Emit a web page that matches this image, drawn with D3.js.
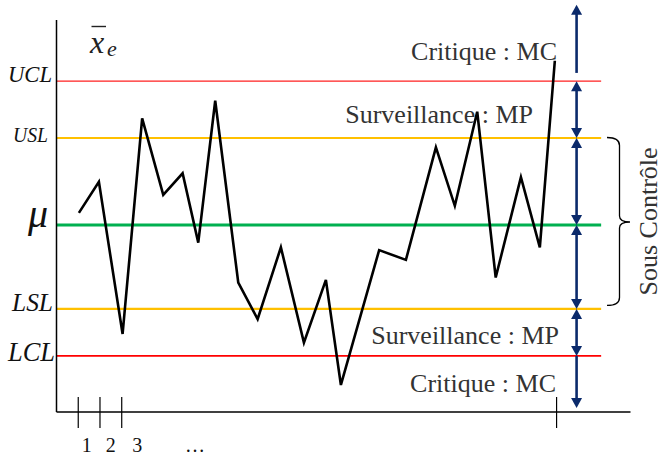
<!DOCTYPE html>
<html>
<head>
<meta charset="utf-8">
<script src="https://cdn.jsdelivr.net/npm/d3@7"></script>
<style>
  html, body { margin: 0; padding: 0; background: #fff; }
  svg { display: block; }
</style>
</head>
<body>
<svg id="chart" width="664" height="457"></svg>
<script>
// ---------- data ----------
// sample positions (index units) and plotted averages (arbitrary units)
const sampleX = [1.03, 1.95, 3.04, 3.94, 4.91, 5.80, 6.52, 7.30, 8.36, 9.25, 10.32, 11.38,
                 12.39, 13.08, 14.84, 16.07, 17.45, 18.32, 19.35, 20.20, 21.36, 22.23, 22.92];
const sampleY = [50.8, 58.7, 19.9, 74.9, 55.4, 60.9, 43.2, 79.4, 33.0, 23.7, 42.0, 17.7,
                 33.7, 6.9, 41.3, 38.8, 67.5, 52.6, 76.6, 34.3, 59.9, 42.0, 89.6];

const limitNames  = ["UCL", "USL", "\u03BC", "LSL", "LCL"];
const limitValues = [84.4, 69.9, 47.7, 26.3, 14.3];
const limitColors = ["#ff2020", "#ffc000", "#00b050", "#ffc000", "#ff0000"];

const tickValues = [1, 2, 3, 23];
const tickLabels = ["1", "2", "3", "\u2026"];
const tickLabelPos = [1.39, 2.49, 3.71, 6.37];

const zoneLabels = ["Critique : MC", "Surveillance : MP", "Surveillance : MP", "Critique : MC"];
const sideLabel = "Sous Contr\u00F4le";

// ---------- scales ----------
const svg = d3.select("#chart");
const x = d3.scaleLinear().domain([0, 26.4]).range([56.5, 630.5]);
const y = d3.scaleLinear().domain([0, 100]).range([412, 20]);
const serif = "'Liberation Serif', 'Times New Roman', serif";

// ---------- limit lines ----------
const lineWidths = [1.4, 2.2, 3, 2.2, 1.8];
svg.selectAll("line.limit").data(limitValues).enter().append("line")
  .attr("class", "limit")
  .attr("x1", x(0)).attr("x2", x(25.05))
  .attr("y1", d => y(d)).attr("y2", d => y(d))
  .attr("stroke", (d, i) => limitColors[i])
  .attr("stroke-width", (d, i) => lineWidths[i]);

// ---------- axes ----------
svg.append("line").attr("x1", x(0)).attr("x2", x(0)).attr("y1", y(100)).attr("y2", y(0))
  .attr("stroke", "#000").attr("stroke-width", 1.5);
svg.append("line").attr("x1", x(0)).attr("x2", x(26.4)).attr("y1", y(0)).attr("y2", y(0))
  .attr("stroke", "#000").attr("stroke-width", 1.5);

svg.selectAll("line.tick").data(tickValues).enter().append("line")
  .attr("class", "tick")
  .attr("x1", d => x(d)).attr("x2", d => x(d))
  .attr("y1", y(0) - 15).attr("y2", y(0) + 16)
  .attr("stroke", "#000").attr("stroke-width", 1.2);

svg.selectAll("text.tl").data(tickLabels).enter().append("text")
  .attr("class", "tl")
  .attr("x", (d, i) => x(tickLabelPos[i]))
  .attr("y", 451.5)
  .attr("text-anchor", "middle")
  .attr("font-family", serif).attr("font-size", 20)
  .attr("fill", "#111")
  .text(d => d);

// ---------- y labels (italic) ----------
const labelSpecs = [
  {size: 23, len: 44, right: 52, dy: 1},
  {size: 21, len: 35, right: 48, dy: 4},
  {size: 40, len: 0, right: 48, dy: 2},
  {size: 26, len: 41, right: 53, dy: 2},
  {size: 27, len: 47, right: 55, dy: 5}
];
svg.selectAll("text.yl").data(limitNames).enter().append("text")
  .attr("class", "yl")
  .attr("x", (d, i) => labelSpecs[i].len ? labelSpecs[i].right - labelSpecs[i].len : labelSpecs[i].right)
  .attr("text-anchor", (d, i) => labelSpecs[i].len ? "start" : "end")
  .attr("y", (d, i) => y(limitValues[i]) + labelSpecs[i].dy)
  .attr("font-family", serif).attr("font-style", "italic")
  .attr("font-size", (d, i) => labelSpecs[i].size)
  .attr("textLength", (d, i) => labelSpecs[i].len || null)
  .attr("lengthAdjust", (d, i) => labelSpecs[i].len ? "spacingAndGlyphs" : null)
  .attr("fill", "#111")
  .text(d => d);

// x-bar e title
const title = svg.append("g");
title.append("text").attr("x", 90).attr("y", 53)
  .attr("font-family", serif).attr("font-style", "italic").attr("font-size", 32)
  .attr("fill", "#222").text("x");
title.append("text").attr("x", 107).attr("y", 56)
  .attr("font-family", serif).attr("font-style", "italic").attr("font-size", 22)
  .attr("fill", "#222").text("e");
title.append("line").attr("x1", 91.5).attr("x2", 106).attr("y1", 26.5).attr("y2", 26.5)
  .attr("stroke", "#222").attr("stroke-width", 1.4);

// ---------- data polyline ----------
const pts = sampleX.map((v, i) => [v, sampleY[i]]);
svg.append("path")
  .datum(pts)
  .attr("fill", "none")
  .attr("stroke", "#000")
  .attr("stroke-width", 2.6)
  .attr("stroke-linejoin", "miter")
  .attr("d", d3.line().x(d => x(d[0])).y(d => y(d[1])));

// ---------- zone labels ----------
const zoneBase = [60, 123, 344, 392];
const zoneRight = [557, 533, 559, 556];
svg.selectAll("text.zone").data(zoneLabels).enter().append("text")
  .attr("class", "zone")
  .attr("x", (d, i) => zoneRight[i])
  .attr("y", (d, i) => zoneBase[i])
  .attr("text-anchor", "end")
  .attr("font-family", serif).attr("font-size", 26)
  .attr("fill", "#333")
  .text(d => d);

// ---------- arrows ----------
const ax = x(23.92);
const navy = "#0b2a6b";
const arrows = [
  {from: 86.5, to: 103.9, headFrom: false},
  {from: limitValues[0], to: limitValues[1], headFrom: true},
  {from: limitValues[1], to: limitValues[2], headFrom: true},
  {from: limitValues[2], to: limitValues[3], headFrom: true},
  {from: limitValues[3], to: limitValues[4], headFrom: true},
  {from: limitValues[4], to: 1.0, headFrom: false}
];
const HL = 10, HW = 5.5;
arrows.forEach(a => {
  const y1 = y(a.from), y2 = y(a.to);
  const dir = Math.sign(y2 - y1);
  const s1 = a.headFrom ? y1 + dir * (HL - 1) : y1;
  const s2 = y2 - dir * (HL - 1);
  svg.append("line").attr("x1", ax).attr("x2", ax).attr("y1", s1).attr("y2", s2)
    .attr("stroke", navy).attr("stroke-width", 2.6);
  const head = (tip, d) => `M${ax},${tip} L${ax - HW},${tip - d * HL} L${ax + HW},${tip - d * HL} Z`;
  svg.append("path").attr("d", head(y2, dir)).attr("fill", navy);
  if (a.headFrom) svg.append("path").attr("d", head(y1, -dir)).attr("fill", navy);
});

// ---------- brace ----------
const bt = y(limitValues[1]) - 0.5, bb = y(limitValues[3]) - 3.5, bm = y(limitValues[2]) - 3;
const bx0 = 607, bx1 = 619.5, bx2 = 630;
svg.append("path")
  .attr("d", `M${bx0},${bt} Q${bx1},${bt} ${bx1},${bt + 8} L${bx1},${bm - 6} Q${bx1},${bm} ${bx2},${bm}` +
             ` Q${bx1},${bm} ${bx1},${bm + 6} L${bx1},${bb - 8} Q${bx1},${bb} ${bx0},${bb}`)
  .attr("fill", "none").attr("stroke", "#000").attr("stroke-width", 1.3);

svg.append("text")
  .attr("transform", `translate(657, ${(bt + bb) / 2}) rotate(-90)`)
  .attr("text-anchor", "middle")
  .attr("font-family", serif).attr("font-size", 26)
  .attr("fill", "#333")
  .text(sideLabel);
</script>
</body>
</html>
